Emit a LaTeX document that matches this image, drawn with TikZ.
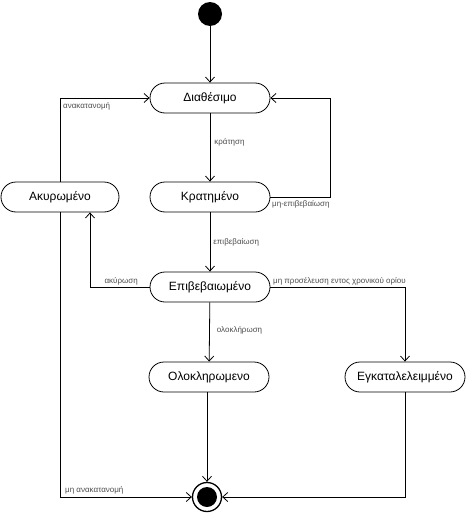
\documentclass[tikz,border=0pt]{standalone}
\usepackage{fontspec}
\setmainfont{Liberation Sans}
\usetikzlibrary{arrows.meta}
\begin{document}
\begin{tikzpicture}[x=1pt,y=-1pt,
  state/.style={draw, line width=0.8pt, rounded corners=15pt, minimum width=120pt,
    minimum height=30pt, inner sep=0pt, font=\fontsize{12}{14}\selectfont},
  arr/.style={draw, line width=0.8pt, -{Straight Barb[length=5pt,width=9pt,line width=0.8pt]}},
  lbl/.style={font=\fontsize{8}{9}\selectfont, text=black!70, inner sep=1pt}]
\useasboundingbox (0,0) rectangle (466,514);

% initial and final pseudo-states
\node[circle, fill=black, minimum size=24pt, inner sep=0pt] (start) at (210,14) {};
\node[circle, draw, line width=1.3pt, minimum size=29pt, inner sep=0pt] (end) at (207,497) {};
\fill (end) circle (10pt);

% states
\node[state] (d) at (210,98) {Διαθέσιμο};
\node[state] (k) at (210,197) {Κρατημένο};
\node[state, minimum width=118pt] (a) at (60,197) {Ακυρωμένο};
\node[state] (e) at (210,287) {Επιβεβαιωμένο};
\node[state] (o) at (209,377) {Ολοκληρωμενο};
\node[state] (g) at (405,377) {Εγκαταλελειμμένο};

% transitions
\draw[arr] (start) -- (d);
\draw[arr] (d) -- node[lbl, right=3pt, pos=0.42] {κράτηση} (k);
\draw[arr] (k.east) -- ++(60,0) |- (d.east);
\node[lbl, anchor=north west] (l1) at (271,199) {μη-επιβεβαίωση};
\draw[arr] (k) -- node[lbl, right=2pt] {επιβεβαίωση} (e);
\draw[arr] (e.west) -| ([xshift=30pt]a.south);
\node[lbl, anchor=south east] (l2) at (139,286) {ακύρωση};
\draw[arr] (a.north) |- (d.west);
\node[lbl, anchor=north west] (l3) at (62,101) {ανακατανομή};
\draw[arr] (e) -- node[lbl, right=6pt, pos=0.47] {ολοκλήρωση} (o);
\draw[arr] (e.east) -| (g.north);
\node[lbl, anchor=south west] (l4) at (272,286) {μη προσέλευση εντος χρονικού ορίου};
\draw[arr] (end |- o.south) -- (end.north);
\draw[arr] (a.south) |- (end.west);
\node[lbl, anchor=south west] (l5) at (64,495) {μη ανακατανομή};
\draw[arr] (g.south) |- (end.east);
\end{tikzpicture}
\end{document}
